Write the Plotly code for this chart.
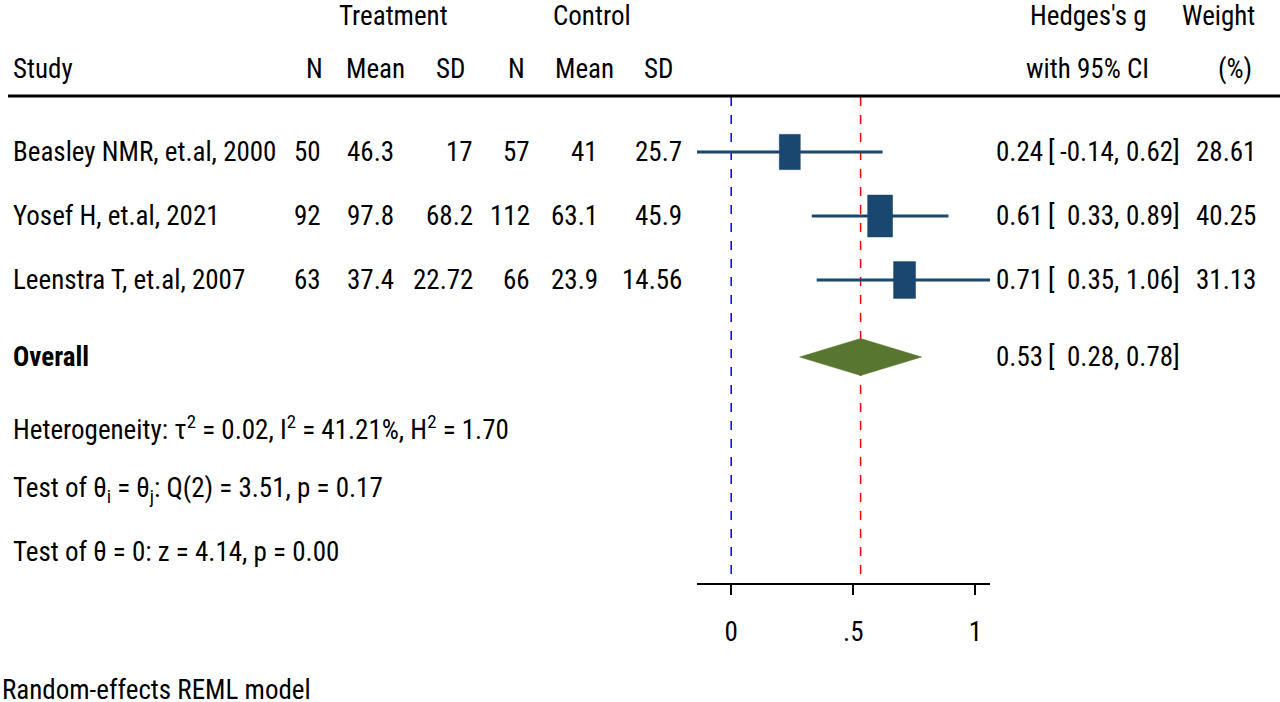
import plotly.graph_objects as go

# ---------------- data ----------------
studies = ["Beasley NMR, et.al, 2000", "Yosef H, et.al, 2021", "Leenstra T, et.al, 2007"]
n_t = [50, 92, 63]
mean_t = [46.3, 97.8, 37.4]
sd_t = [17, 68.2, 22.72]
n_c = [57, 112, 66]
mean_c = [41, 63.1, 23.9]
sd_c = [25.7, 45.9, 14.56]
g = [0.24, 0.61, 0.71]
ci_lo = [-0.14, 0.33, 0.35]
ci_hi = [0.62, 0.89, 1.06]
weight = [28.61, 40.25, 31.13]
overall_g = 0.53
overall_lo = 0.28
overall_hi = 0.78
tau2, i2, h2 = 0.02, 41.21, 1.70
q_stat, q_df, q_p = 3.51, 2, 0.17
z_stat, z_p = 4.14, 0.00
tick_vals = [0, 0.5, 1]
tick_text = ["0", ".5", "1"]

# ---------------- layout constants ----------------
W, H = 1280, 702
PLOT_BOTTOM_PX = 583
ROW_PX = 64.0
ROW0_PX = 88.0
NAVY = "#1a476f"
GREEN = "#58762f"
FONT = "Roboto Condensed, Liberation Sans Narrow, sans-serif"
FS = 27


def row_of(p):
    return (p - ROW0_PX) / ROW_PX


def px(x):
    return x / W


study_rows = [1, 2, 3]
overall_row = row_of(357)
het_rows = [row_of(428), row_of(490), row_of(552)]
hdr1_row = row_of(16)
hdr2_row = row_of(69)
rule_row = row_of(96)
y_top = row_of(0)
y_bot = row_of(PLOT_BOTTOM_PX)

fig = go.Figure()

# CI lines
for i in range(len(studies)):
    fig.add_trace(go.Scatter(x=[ci_lo[i], ci_hi[i]], y=[study_rows[i]] * 2, mode="lines",
                             line=dict(color=NAVY, width=3), hoverinfo="skip", showlegend=False,
                             cliponaxis=False))

# weight boxes (area ~ weight)
W_COEF_PX = 3.93
H_COEF_PX = 6.6
xpx_per_unit = (990 - 697) / (1.06 - (-0.14))
for i in range(len(studies)):
    s = weight[i] ** 0.5
    hw = W_COEF_PX * s / 2 / xpx_per_unit
    hh = H_COEF_PX * s / 2 / ROW_PX
    yy = study_rows[i]
    fig.add_trace(go.Scatter(x=[g[i] - hw, g[i] + hw, g[i] + hw, g[i] - hw, g[i] - hw],
                             y=[yy - hh, yy - hh, yy + hh, yy + hh, yy - hh],
                             mode="lines", fill="toself", fillcolor=NAVY,
                             line=dict(color=NAVY, width=0.5), hoverinfo="skip", showlegend=False))

# overall diamond
dh = 18.5 / ROW_PX
fig.add_trace(go.Scatter(x=[overall_lo, overall_g, overall_hi, overall_g, overall_lo],
                         y=[overall_row, overall_row - dh, overall_row, overall_row + dh, overall_row],
                         mode="lines", fill="toself", fillcolor=GREEN, line=dict(color=GREEN, width=0.5),
                         hoverinfo="skip", showlegend=False))

shapes = []
# header rule
shapes.append(dict(type="line", xref="paper", yref="y", x0=px(8), x1=1.0, y0=rule_row, y1=rule_row,
                   line=dict(color="black", width=3)))
# reference lines
shapes.append(dict(type="line", xref="x", yref="y", x0=0, x1=0, y0=row_of(97), y1=y_bot,
                   line=dict(color="#0000ff", width=1.5, dash="dash"), layer="below"))
shapes.append(dict(type="line", xref="x", yref="y", x0=overall_g, x1=overall_g, y0=row_of(97), y1=y_bot,
                   line=dict(color="#ff0000", width=1.5, dash="dash"), layer="below"))

ann = []


def add(text, xpx, y, anchor="left", yref="y", bold=False):
    ann.append(dict(text=("<b>%s</b>" % text) if bold else text, x=px(xpx), xref="paper", y=y, yref=yref,
                    xanchor=anchor, yanchor="middle", showarrow=False,
                    font=dict(family=FONT, size=FS, color="black")))


# headers
add("Treatment", 393, hdr1_row, "center")
add("Control", 592, hdr1_row, "center")
add("Hedges's g", 1149, hdr1_row, "right")
add("Weight", 1257, hdr1_row, "right")
add("Study", 11, hdr2_row, "left")
for lbl, cx in [("N", 314), ("Mean", 375), ("SD", 450), ("N", 516), ("Mean", 584), ("SD", 658)]:
    add(lbl, cx, hdr2_row, "center")
add("with 95% CI", 1151, hdr2_row, "right")
add("(%)", 1254, hdr2_row, "right")


def fmt(v):
    return "%g" % v


def add_ci(y, est, lo, hi):
    add("%.2f" % est, 994, y, "left")
    add("[", 1046, y, "left")
    add("%.2f," % lo, 1121, y, "right")
    add("%.2f]" % hi, 1182, y, "right")


for i in range(len(studies)):
    y = study_rows[i]
    add(studies[i], 11, y, "left")
    add(fmt(n_t[i]), 323, y, "right")
    add(fmt(mean_t[i]), 396, y, "right")
    add(fmt(sd_t[i]), 475, y, "right")
    add(fmt(n_c[i]), 532, y, "right")
    add(fmt(mean_c[i]), 600, y, "right")
    add(fmt(sd_c[i]), 684, y, "right")
    add_ci(y, g[i], ci_lo[i], ci_hi[i])
    add("%.2f" % weight[i], 1258, y, "right")

add("Overall", 11, overall_row, "left", bold=True)
add_ci(overall_row, overall_g, overall_lo, overall_hi)

add("Heterogeneity: τ<sup>2</sup> = %.2f, I<sup>2</sup> = %.2f%%, H<sup>2</sup> = %.2f" % (tau2, i2, h2),
    11, het_rows[0], "left")
add("Test of θ<sub>i</sub> = θ<sub>j</sub>: Q(%d) = %.2f, p = %.2f" % (q_df, q_stat, q_p), 11, het_rows[1], "left")
add("Test of θ = 0: z = %.2f, p = %.2f" % (z_stat, z_p), 11, het_rows[2], "left")

add("Random-effects REML model", 0, (PLOT_BOTTOM_PX - 690) / PLOT_BOTTOM_PX, "left", yref="paper")

fig.update_layout(
    width=W, height=H,
    margin=dict(l=0, r=0, t=0, b=H - PLOT_BOTTOM_PX, pad=0),
    paper_bgcolor="white", plot_bgcolor="white",
    showlegend=False,
    shapes=shapes, annotations=ann,
    xaxis=dict(domain=[px(697), px(990)], range=[-0.14, 1.06], showgrid=False, zeroline=False,
               showline=True, linecolor="black", linewidth=2, ticks="outside", ticklen=10, tickwidth=2,
               tickcolor="black", tickvals=tick_vals, ticktext=tick_text,
               tickfont=dict(family=FONT, size=FS, color="black"), ticklabelstandoff=14,
               fixedrange=True),
    yaxis=dict(range=[y_bot, y_top], visible=False, showgrid=False, zeroline=False, fixedrange=True),
)

fig.write_html("out.html", config={"displayModeBar": False},
               post_script="document.body.style.margin='0';")
